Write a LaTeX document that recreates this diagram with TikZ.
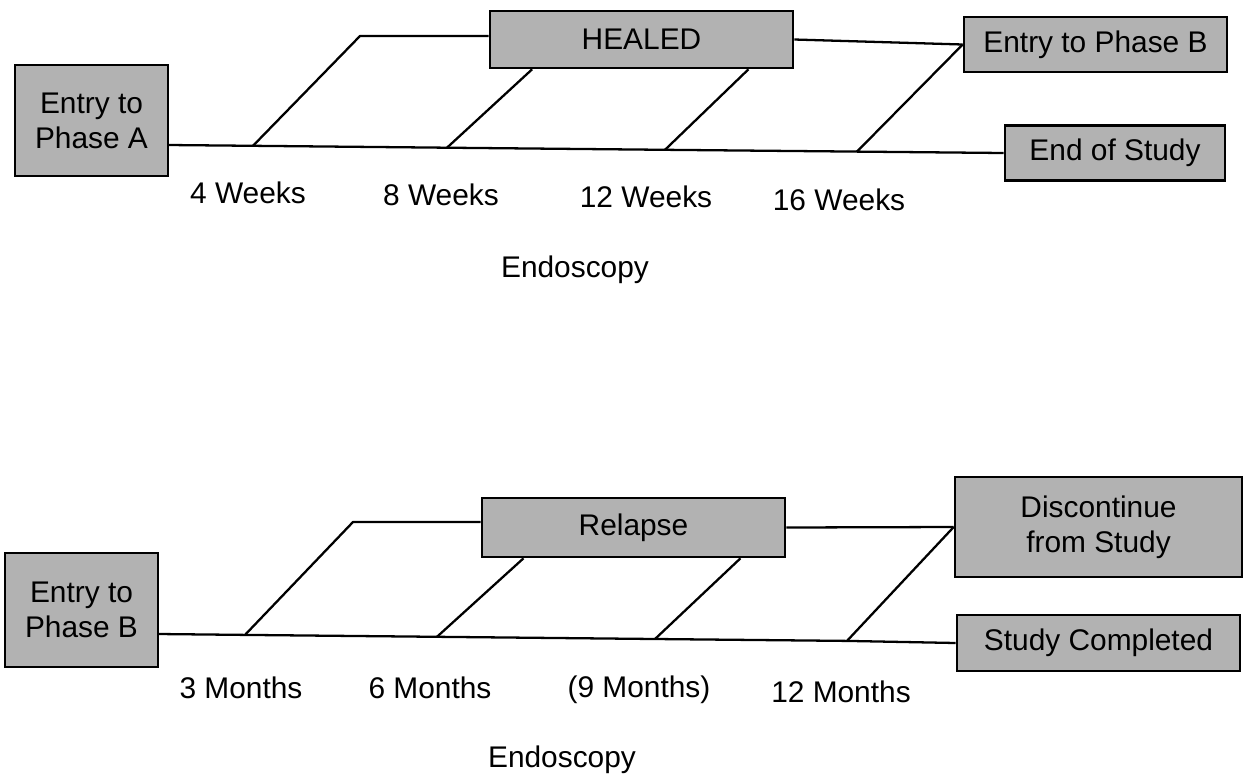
\documentclass[tikz,border=0pt]{standalone}
\usepackage{fontspec}
\setmainfont{Liberation Sans}
\usetikzlibrary{calc}
\tikzset{
  box/.style={draw=black, line width=1.5pt, fill=black!30, inner sep=0pt, align=center,
    font=\fontsize{17}{20}\selectfont},
  lbl/.style={font=\fontsize{17}{20}\selectfont, inner sep=0pt},
  conn/.style={line width=1.3pt, line join=round}
}
\begin{document}
\begin{tikzpicture}[x=0.02cm, y=-0.02cm]
\useasboundingbox (0,0) rectangle (1245,775);
% ---------- top part ----------
\node[box, minimum width=3.06cm, minimum height=2.22cm] (A) at (91.5,120.5) {Entry to\\Phase A};
\node[box, minimum width=6.06cm, minimum height=1.14cm] (H) at (641.5,39.5) {HEALED};
\node[box, minimum width=5.26cm, minimum height=1.1cm] (B) at (1095.5,44.5) {Entry to Phase B};
\node[box, minimum width=4.4cm, minimum height=1.1cm] (E) at (1115,153) {End of Study};
\coordinate (t0) at (168,145);
\coordinate (t1) at (253,145.8);
\coordinate (t2) at (447,147.7);
\coordinate (t3) at (665,149.8);
\coordinate (t4) at (857,151.6);
\coordinate (u1) at (360,36);
\draw[conn] (t0) -- (t1) -- (t2) -- (t3) -- (t4) -- (E.west);
\draw[conn] (t1) -- (u1) -- (u1 -| H.west);
\draw[conn] (H.east) -- (B.west);
\draw[conn] (t2) -- ($(H.south west)!0.142!(H.south east)$);
\draw[conn] (t3) -- ($(H.south west)!0.85!(H.south east)$);
\draw[conn] (t4) -- (B.west);
\node[lbl] (w4) at (248,193) {4 Weeks};
\node[lbl] (w8) at (441,195) {8 Weeks};
\node[lbl] (w12) at (646,197) {12 Weeks};
\node[lbl] (w16) at (839,200) {16 Weeks};
\node[lbl] (en1) at (575,270) {Endoscopy};
% ---------- bottom part ----------
\node[box, minimum width=3.06cm, minimum height=2.28cm] (A2) at (81.5,610) {Entry to\\Phase B};
\node[box, minimum width=6.06cm, minimum height=1.18cm] (R) at (633.5,527.5) {Relapse};
\node[box, minimum width=5.74cm, minimum height=2.0cm] (D) at (1098.5,527) {Discontinue\\from Study};
\node[box, minimum width=5.66cm, minimum height=1.12cm] (S) at (1098.5,643) {Study Completed};
\coordinate (s0) at (158,634);
\coordinate (s1) at (245,634.9);
\coordinate (s2) at (437,636.8);
\coordinate (s3) at (655,639);
\coordinate (s4) at (847,640.9);
\coordinate (v1) at (353,522);
\draw[conn] (s0) -- (s1) -- (s2) -- (s3) -- (s4) -- (S.west);
\draw[conn] (s1) -- (v1) -- (v1 -| R.west);
\draw[conn] (R.east) -- (D.west);
\draw[conn] (s2) -- ($(R.south west)!0.14!(R.south east)$);
\draw[conn] (s3) -- ($(R.south west)!0.85!(R.south east)$);
\draw[conn] (s4) -- (D.west);
\node[lbl] (m3) at (241,688) {3 Months};
\node[lbl] (m6) at (430,688) {6 Months};
\node[lbl] (m9) at (639,690) {(9 Months)};
\node[lbl] (m12) at (841,692) {12 Months};
\node[lbl] (en2) at (562,760) {Endoscopy};
\end{tikzpicture}
\end{document}
